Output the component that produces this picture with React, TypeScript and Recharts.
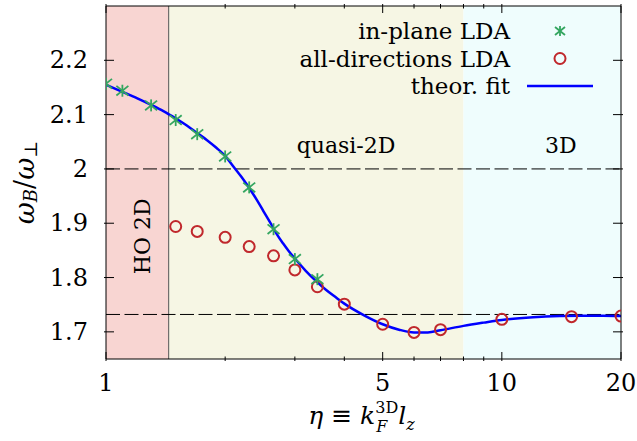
import React from 'react';
import {
  ComposedChart, Line, Scatter, XAxis, YAxis, ReferenceArea, ReferenceLine, ReferenceDot, Legend,
} from 'recharts';

// ---------- data ----------
const inPlaneEta = [1, 1.1, 1.3, 1.5, 1.7, 2.0, 2.3, 2.65, 3.0, 3.42];
const inPlaneOmega = [2.157, 2.144, 2.117, 2.09, 2.064, 2.023, 1.966, 1.889, 1.834, 1.797];

const allDirEta = [1.5, 1.7, 2.0, 2.3, 2.65, 3.0, 3.42, 4.0, 5.0, 6.0, 7.0, 10, 15, 20];
const allDirOmega = [1.894, 1.885, 1.874, 1.857, 1.84, 1.814, 1.783, 1.751, 1.714, 1.699, 1.704, 1.723, 1.728, 1.729];

const fitEta = [1, 1.1, 1.2, 1.3, 1.4, 1.5, 1.6, 1.7, 1.8, 1.9, 2.0, 2.1, 2.2, 2.3, 2.4, 2.5, 2.6, 2.7, 2.8, 2.9, 3.0,
  3.2, 3.4, 3.6, 3.8, 4.0, 4.5, 5.0, 5.5, 6.0, 6.5, 7.0, 8.0, 9.0, 10, 12, 14, 16, 18, 20];
const fitOmega = [2.155, 2.142, 2.13, 2.118, 2.106, 2.093, 2.08, 2.066, 2.053, 2.039, 2.024, 2.004, 1.985, 1.965, 1.944,
  1.922, 1.901, 1.88, 1.863, 1.848, 1.835, 1.812, 1.793, 1.777, 1.764, 1.752, 1.73, 1.714, 1.704, 1.699, 1.699, 1.703,
  1.711, 1.717, 1.722, 1.727, 1.729, 1.7295, 1.7295, 1.729];

const xTicks = [1, 2, 3, 4, 5, 6, 7, 8, 9, 10, 20];
const xLabeled = [1, 5, 10, 20];
const yTicks = [1.7, 1.8, 1.9, 2.0, 2.1, 2.2];
const xDomain = [1, 20];
const yDomain = [1.65, 2.3];

const regionBounds = [1, 1.44, 8, 20];
const regionColors = ['#f8d5d2', '#f6f6e4', '#effdfd'];
const dashedLevels = [2.0, 1.732];

const annotations = [
  { eta: 4.04, omega: 2.043, text: 'quasi-2D', angle: 0 },
  { eta: 14.1, omega: 2.043, text: '3D', angle: 0 },
  { eta: 1.24, omega: 1.876, text: 'HO 2D', angle: -90 },
];

const seriesNames = ['in-plane LDA', 'all-directions LDA', 'theor. fit'];
const GREEN = '#34a660';
const RED = '#c0282c';
const BLUE = '#0000ff';

const inPlane = inPlaneEta.map((x, i) => ({ x, y: inPlaneOmega[i] }));
const allDir = allDirEta.map((x, i) => ({ x, y: allDirOmega[i] }));
const fit = fitEta.map((x, i) => ({ x, y: fitOmega[i] }));

const FONT = '"DejaVu Serif", serif';

// ---------- shapes ----------
const Star = ({ cx, cy, arm = 6 }: any) => (
  <g stroke={GREEN} strokeWidth={1.8}>
    <line x1={cx - arm} y1={cy - arm * 0.8} x2={cx + arm} y2={cy + arm * 0.8} />
    <line x1={cx - arm} y1={cy + arm * 0.8} x2={cx + arm} y2={cy - arm * 0.8} />
    <line x1={cx} y1={cy - arm} x2={cx} y2={cy + arm} />
  </g>
);
const Ring = ({ cx, cy }: any) => (
  <circle cx={cx} cy={cy} r={5.5} fill="none" stroke={RED} strokeWidth={2} />
);

// ---------- ticks ----------
const BottomTick = ({ x, y, payload }: any) => {
  const major = xLabeled.includes(payload.value);
  return (
    <g>
      <line x1={x} x2={x} y1={y} y2={y - (major ? 9 : 4.5)} stroke="#000" strokeWidth={1} />
      {major && (
        <text x={x} y={y + 30} textAnchor="middle" fontFamily={FONT} fontSize={24} fill="#000">{payload.value}</text>
      )}
    </g>
  );
};
const TopTick = ({ x, y, payload }: any) => {
  const major = xLabeled.includes(payload.value);
  return <line x1={x} x2={x} y1={y} y2={y + (major ? 9 : 4.5)} stroke="#000" strokeWidth={1} />;
};
const LeftTick = ({ x, y, payload }: any) => (
  <g>
    <line x1={x} x2={x + 10} y1={y} y2={y} stroke="#000" strokeWidth={1} />
    <text x={x - 16} y={y} textAnchor="end" dominantBaseline="central" fontFamily={FONT} fontSize={24} fill="#000">
      {String(Number(payload.value.toFixed(1)))}
    </text>
  </g>
);
const RightTick = ({ x, y }: any) => (
  <line x1={x} x2={x - 10} y1={y} y2={y} stroke="#000" strokeWidth={1} />
);

// ---------- labels ----------
const YTitle = ({ viewBox }: any) => {
  const cx = viewBox.x + 24;
  const cy = viewBox.y + viewBox.height / 2;
  return (
    <text transform={`translate(${cx},${cy}) rotate(-90)`} textAnchor="middle" dominantBaseline="central"
      fontFamily={FONT} fontSize={27} fill="#000">
      <tspan fontStyle="italic">ω</tspan>
      <tspan fontStyle="italic" fontSize={18} dy={6}>B</tspan>
      <tspan dy={-6}>/</tspan>
      <tspan fontStyle="italic">ω</tspan>
      <tspan fontSize={18} dy={6}>⊥</tspan>
    </text>
  );
};
const XTitle = ({ viewBox }: any) => {
  const cx = viewBox.x + viewBox.width / 2 - 2;
  const by = viewBox.y + 65;
  return (
    <text x={cx} y={by} textAnchor="middle" fontFamily={FONT} fontSize={25} fill="#000">
      <tspan fontStyle="italic">η</tspan>
      <tspan> ≡ </tspan>
      <tspan fontStyle="italic">k</tspan>
      <tspan fontSize={16} dy={-11}>3D</tspan>
      <tspan fontSize={16} fontStyle="italic" dx={-22} dy={19}>F</tspan>
      <tspan fontStyle="italic" dx={11} dy={-8}>l</tspan>
      <tspan fontSize={16} fontStyle="italic" dy={6}>z</tspan>
    </text>
  );
};

const Annotation = (text: string, angle: number) => ({ cx, cy }: any) => (
  <text x={cx} y={cy} textAnchor="middle" dominantBaseline="central" fontFamily={FONT} fontSize={22} fill="#000"
    transform={angle ? `rotate(${angle},${cx},${cy})` : undefined}>
    {text}
  </text>
);

const LegendContent = () => {
  const rows = [0, 1, 2];
  return (
    <svg width={330} height={92} style={{ display: 'block', overflow: 'visible' }}>
      {rows.map((i) => {
        const cy = 17 + i * 27.5;
        return (
          <g key={i}>
            <text x={230} y={cy} textAnchor="end" dominantBaseline="central" fontFamily={FONT} fontSize={23} fill="#000">
              {seriesNames[i]}
            </text>
            {i === 0 && <Star cx={280} cy={cy} arm={5} />}
            {i === 1 && <Ring cx={280} cy={cy} />}
            {i === 2 && <line x1={247} x2={313} y1={cy} y2={cy} stroke={BLUE} strokeWidth={2.5} />}
          </g>
        );
      })}
    </svg>
  );
};

export default function App() {
  return (
    <div style={{ position: 'absolute', left: 0, top: 0, width: 637, height: 441, background: '#fff' }}>
      <ComposedChart width={637} height={441} margin={{ top: 5, right: 15, bottom: 0, left: 0 }}>
        <XAxis xAxisId={0} dataKey="x" type="number" scale="log" domain={xDomain} allowDataOverflow ticks={xTicks}
          interval={0} tickSize={0} tickLine={false} tick={<BottomTick />} height={82}
          axisLine={{ stroke: '#000', strokeWidth: 1 }} label={<XTitle />} />
        <XAxis xAxisId="top" orientation="top" dataKey="x" type="number" scale="log" domain={xDomain} allowDataOverflow
          ticks={xTicks} interval={0} tickSize={0} tickLine={false} tick={<TopTick />} height={1}
          axisLine={{ stroke: '#000', strokeWidth: 1 }} />
        <YAxis yAxisId={0} type="number" domain={yDomain} allowDataOverflow ticks={yTicks} interval={0} tickSize={0}
          tickLine={false} tick={<LeftTick />} width={106} axisLine={{ stroke: '#000', strokeWidth: 1 }}
          label={<YTitle />} />
        <YAxis yAxisId="right" orientation="right" type="number" domain={yDomain} allowDataOverflow ticks={yTicks}
          interval={0} tickSize={0} tickLine={false} tick={<RightTick />} width={1}
          axisLine={{ stroke: '#000', strokeWidth: 1 }} />

        {regionColors.map((c, i) => (
          <ReferenceArea key={`r${i}`} x1={regionBounds[i]} x2={regionBounds[i + 1]} y1={yDomain[0]} y2={yDomain[1]}
            fill={c} fillOpacity={1} stroke="none" ifOverflow="hidden" />
        ))}
        <ReferenceLine x={regionBounds[1]} stroke="#555" strokeWidth={1} />
        {dashedLevels.map((v) => (
          <ReferenceLine key={`d${v}`} y={v} stroke="#000" strokeWidth={1} strokeDasharray="14 4.5" />
        ))}
        {annotations.map((a) => (
          <ReferenceDot key={a.text} x={a.eta} y={a.omega} r={1} shape={Annotation(a.text, a.angle)} />
        ))}

        <Line data={fit} dataKey="y" type="monotone" stroke={BLUE} strokeWidth={2.5} dot={false}
          isAnimationActive={false} name={seriesNames[2]} />
        <Scatter data={allDir} dataKey="y" shape={<Ring />} isAnimationActive={false} name={seriesNames[1]} />
        <Scatter data={inPlane} dataKey="y" shape={<Star />} isAnimationActive={false} name={seriesNames[0]} />

        <Legend layout="horizontal" align="center" verticalAlign="middle" content={<LegendContent />}
          wrapperStyle={{ position: 'absolute', top: 14, left: 280, width: 330, height: 92 }} />
      </ComposedChart>
    </div>
  );
}
